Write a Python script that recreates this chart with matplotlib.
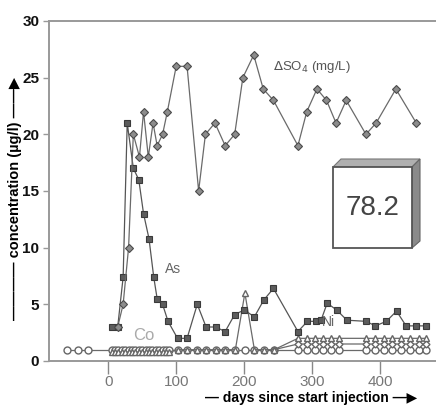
import matplotlib
matplotlib.use("Agg")
import matplotlib.pyplot as plt
from matplotlib.patches import Polygon, Rectangle

plt.rcParams['font.family'] = ['Liberation Sans', 'DejaVu Sans']

# SO4 (mg/L), grey diamonds
so4_days = [14, 22, 30, 37, 46, 52, 59, 66, 72, 80, 87, 100, 116, 133, 143, 157, 172, 186,
            198, 214, 228, 243, 279, 292, 307, 321, 335, 350, 379, 394, 423, 453]
so4_vals = [3, 5, 10, 20, 18, 22, 18, 21, 19, 20, 22, 26, 26, 15, 20, 21, 19, 20,
            25, 27, 24, 23, 19, 22, 24, 23, 21, 23, 20, 21, 24, 21]

# As, dark squares
as_days = [5, 14, 22, 28, 37, 45, 52, 60, 67, 72, 80, 88, 102, 116, 131, 144, 158, 172, 186,
           200, 215, 229, 243, 279, 293, 305, 313, 322, 336, 351, 379, 393, 409, 424, 438, 452, 467]
as_vals = [3, 3, 7.4, 21, 17, 16, 13, 10.8, 7.4, 5.5, 5, 3.5, 2, 2, 5, 3, 3, 2.6, 4.1,
           4.5, 3.9, 5.4, 6.4, 2.6, 3.5, 3.5, 3.6, 5.1, 4.5, 3.6, 3.5, 3.1, 3.5, 4.4, 3.1, 3.1, 3.1]

# Co, open circles
co_days = [-61, -45, -29, 5, 10, 15, 20, 25, 30, 35, 40, 45, 50, 55, 60, 65, 70, 75, 80, 85, 90,
           102, 116, 130, 144, 158, 172, 187, 201, 215, 229, 244,
           279, 292, 304, 316, 328, 340, 379, 392, 405, 418, 431, 444, 457, 468]
co_vals = [1, 1, 1, 1, 1, 1, 1, 1, 1, 1, 1, 1, 1, 1, 1, 1, 1, 1, 1, 1, 1,
           1, 1, 1, 1, 1, 1, 1, 1, 1, 1, 1,
           1, 1, 1, 1, 1, 1, 1, 1, 1, 1, 1, 1, 1, 1]

# Ni, open triangles
ni_days = [5, 10, 15, 20, 25, 30, 35, 40, 45, 50, 55, 60, 65, 70, 75, 80, 85, 90,
           102, 116, 130, 144, 158, 172, 187, 201, 215, 229, 244,
           279, 292, 304, 316, 328, 340, 379, 392, 405, 418, 431, 444, 457, 468]
ni_vals = [0.8, 0.8, 0.8, 0.8, 0.8, 0.8, 0.8, 0.8, 0.8, 0.8, 0.8, 0.8, 0.8, 0.8, 0.8, 0.8, 0.8, 0.8,
           1, 1, 1, 1, 1, 1, 1, 6, 1, 1, 1,
           2, 2, 2, 2, 2, 2, 2, 2, 2, 2, 2, 2, 2, 2]

# unlabelled trace, small open diamonds
oth_days = [244, 279, 292, 304, 316, 328, 340, 379, 392, 405, 418, 431, 444, 457, 468]
oth_vals = [1, 1.5, 1.5, 1.5, 1.5, 1.5, 1.5, 1.5, 1.5, 1.5, 1.5, 1.5, 1.5, 1.5, 1.5]

yticks = [0, 5, 10, 15, 20, 25, 30]
xticks = [0, 100, 200, 300, 400]

W, H = 436, 407
fig = plt.figure(figsize=(W / 100, H / 100), dpi=100)
ax = fig.add_axes([49 / W, 1 - 361 / H, 1 - 49 / W, (361 - 21) / H])

line_c = '#6a6a6a'
ax.plot(co_days, co_vals, '-', color=line_c, lw=0.9, marker='o', ms=5,
        mfc='white', mec='#666666', mew=1.0, zorder=3)
ax.plot(oth_days, oth_vals, '-', color=line_c, lw=0.9, marker='D', ms=3.5,
        mfc='white', mec='#666666', mew=1.0, zorder=3)
ax.plot(ni_days, ni_vals, '-', color=line_c, lw=0.9, marker='^', ms=4.5,
        mfc='white', mec='#666666', mew=1.0, zorder=3)
ax.plot(as_days, as_vals, '-', color='#555555', lw=0.9, marker='s', ms=5,
        mfc='#5c5c5c', mec='#3a3a3a', mew=0.8, zorder=4)
ax.plot(so4_days, so4_vals, '-', color=line_c, lw=0.9, marker='D', ms=4.2,
        mfc='#8c8c8c', mec='#4a4a4a', mew=0.8, zorder=4)

ax.set_xlim(-87, 482)
ax.set_ylim(0, 30)
ax.set_xticks(xticks)
ax.set_yticks(yticks)
ax.tick_params(axis='x', direction='out', length=9, width=1, color='#888888',
               labelsize=11, labelcolor='#777777', pad=1)
ax.tick_params(axis='y', direction='out', length=4, width=1, color='#999999',
               labelsize=11, labelcolor='#111111', pad=3)
for lab in ax.get_yticklabels():
    lab.set_fontweight('bold')
for s in ['left', 'top', 'bottom']:
    ax.spines[s].set_color('#999999')
    ax.spines[s].set_linewidth(1.4)
ax.spines['right'].set_visible(False)

# series labels
fig.text(273 / W, 1 - 67 / H, r'$\Delta$SO$_4$ (mg/L)', fontsize=9.5,
         color='#555555', va='center', ha='left')
fig.text(165 / W, 1 - 269 / H, 'As', fontsize=10, color='#666666', va='center', ha='left')
fig.text(133 / W, 1 - 335 / H, 'Co', fontsize=12, color='#aaaaaa', va='center', ha='left')
fig.text(322 / W, 1 - 322 / H, 'Ni', fontsize=10, color='#666666', va='center', ha='left')

fig.text(15 / W, 1 - 198 / H,
         '\u2014\u2014\u2014\u2014 concentration (\u00b5g/l) \u2014\u2014\u25b6',
         rotation=90, fontsize=10.5, fontweight='bold', va='center', ha='center')
fig.text(311 / W, 1 - 398 / H, '\u2014 days since start injection \u2014\u25b6',
         fontsize=10, fontweight='bold', va='center', ha='center')

# bevelled box with value
def px(x, y):
    return (x / W, 1 - y / H)

fig.patches.append(Polygon([px(333, 167), px(341, 159), px(420, 159), px(412, 167)],
                           closed=True, transform=fig.transFigure, fc='#b0b0b0',
                           ec='#777777', lw=0.8))
fig.patches.append(Polygon([px(412, 167), px(420, 159), px(420, 241), px(412, 248)],
                           closed=True, transform=fig.transFigure, fc='#8a8a8a',
                           ec='#666666', lw=0.8))
fig.patches.append(Rectangle(px(333, 248), 79 / W, 81 / H, transform=fig.transFigure,
                             fc='white', ec='#555555', lw=1.3))
fig.text(373 / W, 1 - 208 / H, '78.2', fontsize=20, color='#444444',
         va='center', ha='center')

fig.savefig('out.png', dpi=100)
